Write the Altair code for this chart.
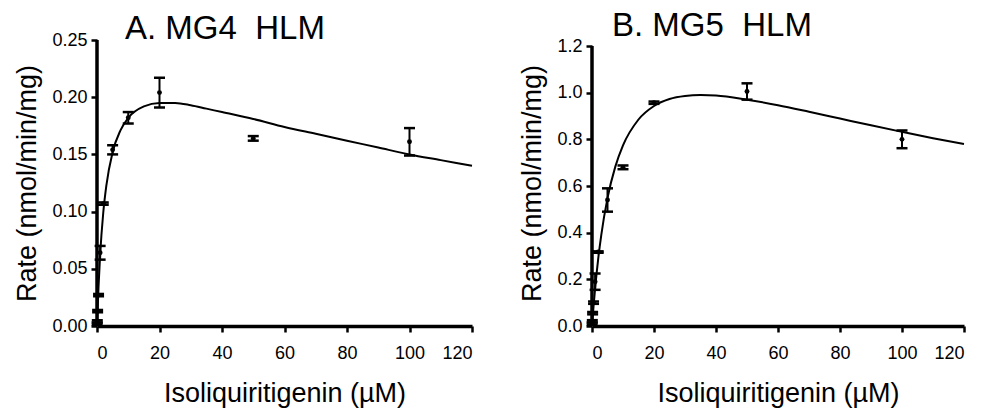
import altair as alt
import pandas as pd

# ---- data ----
conc = [0.05, 0.1, 0.2, 0.5, 1, 2, 5, 10, 20, 50, 100]

mg4_rate = [0.002, 0.004, 0.013, 0.027, 0.064, 0.107, 0.154, 0.182, 0.204, 0.164, 0.161]
mg4_err = [0.001, 0.001, 0.001, 0.001, 0.006, 0.001, 0.004, 0.005, 0.013, 0.002, 0.012]

mg5_rate = [0.010, 0.020, 0.055, 0.100, 0.190, 0.317, 0.540, 0.680, 0.957, 1.005, 0.800]
mg5_err = [0.005, 0.005, 0.005, 0.005, 0.035, 0.003, 0.050, 0.008, 0.005, 0.035, 0.038]

# fitted curves
fit_x = [0, 0.5, 1, 2, 3, 5, 7.5, 10, 15, 20, 25, 30, 35, 40, 50, 60, 70, 80, 90, 100, 110, 120]
mg4_fit = [0, 0.035, 0.062, 0.099, 0.123, 0.152, 0.171, 0.182, 0.192, 0.195, 0.195, 0.193,
           0.190, 0.187, 0.181, 0.174, 0.168, 0.162, 0.156, 0.150, 0.145, 0.140]
mg5_fit = [0, 0.085, 0.160, 0.288, 0.391, 0.548, 0.682, 0.774, 0.885, 0.943, 0.973, 0.986,
           0.990, 0.988, 0.970, 0.946, 0.918, 0.889, 0.860, 0.832, 0.805, 0.780]

x_ticks = [0, 20, 40, 60, 80, 100, 120]
mg4_yticks = [0, 0.05, 0.10, 0.15, 0.20, 0.25]
mg5_yticks = [0, 0.2, 0.4, 0.6, 0.8, 1.0, 1.2]

FONT = "Liberation Sans"
NB = "\u00a0"


def panel(title, rate, err, fit, ytop, scale_top, yticks, yfmt, width, title_dx, title_offset):
    pts = pd.DataFrame({"x": conc, "y": rate,
                        "lo": [r - e for r, e in zip(rate, err)],
                        "hi": [r + e for r, e in zip(rate, err)]})
    cur = pd.DataFrame({"x": fit_x, "y": fit})

    xs = alt.Scale(domain=[0, 120], nice=False, zero=False)
    ys = alt.Scale(domain=[0, scale_top], nice=False)
    xax = alt.Axis(values=x_ticks, title="Isoliquiritigenin (µM)", grid=False,
                   tickSize=6, labelPadding=12, titlePadding=18)
    yax = alt.Axis(values=yticks, format=yfmt, title="Rate (nmol/min/mg)", grid=False,
                   domain=False, tickSize=6, labelPadding=4, titlePadding=10)

    line = alt.Chart(cur).mark_line(color="black", strokeWidth=2, interpolate="monotone").encode(
        x=alt.X("x:Q", scale=xs, axis=xax),
        y=alt.Y("y:Q", scale=ys, axis=yax),
    )
    yline = alt.Chart(pd.DataFrame({"k": [0]})).mark_rule(color="black", strokeWidth=3.5).encode(
        x=alt.value(0), y=alt.datum(0), y2=alt.datum(ytop))
    bars = alt.Chart(pts).mark_rule(color="black", strokeWidth=2, opacity=1).encode(
        x="x:Q", y="lo:Q", y2="hi:Q")
    cap_lo = alt.Chart(pts).mark_tick(color="black", orient="horizontal", size=11,
                                      thickness=2.5, opacity=1).encode(x="x:Q", y="lo:Q")
    cap_hi = alt.Chart(pts).mark_tick(color="black", orient="horizontal", size=11,
                                      thickness=2.5, opacity=1).encode(x="x:Q", y="hi:Q")
    dots = alt.Chart(pts).mark_point(filled=True, color="black", size=24, opacity=1).encode(
        x="x:Q", y="y:Q")

    return alt.layer(line, yline, bars, cap_lo, cap_hi, dots).properties(
        width=width, height=286,
        title=alt.TitleParams(title, anchor="start", frame="group", dx=title_dx,
                              offset=title_offset, baseline="alphabetic",
                              fontSize=33, font=FONT, fontWeight="normal", color="black"),
    )


left = panel("A. MG4" + NB + " HLM", mg4_rate, mg4_err, mg4_fit, 0.25, 0.25,
             mg4_yticks, ".2f", 375, 28, -41)
right = panel("B. MG5" + NB + " HLM", mg5_rate, mg5_err, mg5_fit, 1.2, 1.2 * 286 / 280,
              mg5_yticks, ".1f", 372, 20, -32)

chart = alt.hconcat(
    left, right, spacing=42,
    padding={"left": 5, "top": 2, "right": 5, "bottom": 5},
).configure(
    background="white"
).configure_view(stroke=None).configure_axis(
    domainColor="black", domainWidth=3.5, domainOpacity=1,
    tickColor="black", tickWidth=2.5, tickOpacity=1,
    labelFont=FONT, labelFontSize=18, labelColor="black",
    titleFont=FONT, titleFontSize=27, titleFontWeight="normal", titleColor="black",
)

chart.save("out.html", embed_options={"renderer": "svg", "actions": False})
